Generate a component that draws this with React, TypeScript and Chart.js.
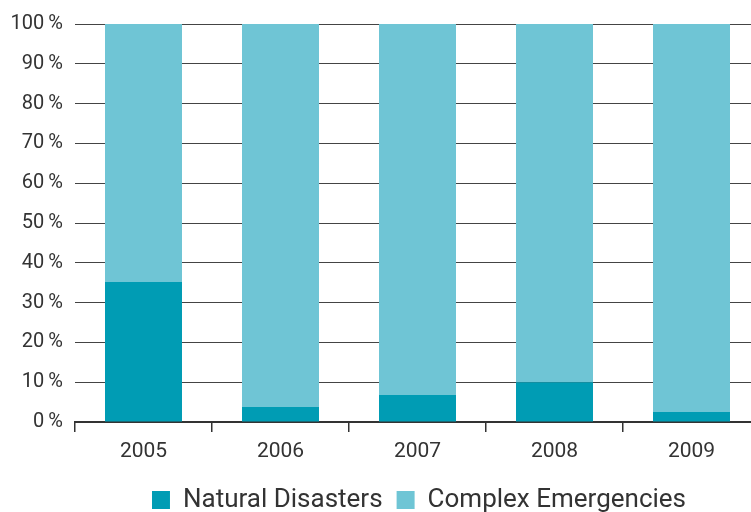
import React, { useEffect, useRef } from "react";
import { Chart, registerables } from "chart.js";

Chart.register(...registerables);

const categories = ["2005", "2006", "2007", "2008", "2009"];
const naturalDisasters = [35.2, 3.8, 6.8, 10.0, 2.5];
const complexEmergencies = [64.8, 96.2, 93.2, 90.0, 97.5];
const yTickLabels = ["0\u2009%", "10\u2009%", "20\u2009%", "30\u2009%", "40\u2009%", "50\u2009%", "60\u2009%", "70\u2009%", "80\u2009%", "90\u2009%", "100\u2009%"];

const FONT = "Roboto, 'DejaVu Sans', sans-serif";
const TEXT = "#333333";

const legendShift = {
  id: "legendShift",
  afterLayout(chart: any) {
    const lg = chart.legend;
    if (lg) {
      lg.left += 39;
      lg.right += 39;
    }
  },
};

export default function App() {
  const ref = useRef<HTMLCanvasElement | null>(null);
  useEffect(() => {
    if (!ref.current) return;
    const chart = new Chart(ref.current, {
      type: "bar",
      data: {
        labels: categories,
        datasets: [
          {
            label: "Natural Disasters",
            data: naturalDisasters,
            backgroundColor: "#009cb4",
            barPercentage: 0.562,
            categoryPercentage: 1,
          },
          {
            label: "Complex Emergencies",
            data: complexEmergencies,
            backgroundColor: "#6fc5d5",
            barPercentage: 0.562,
            categoryPercentage: 1,
          },
        ],
      },
      plugins: [legendShift],
      options: {
        animation: false,
        responsive: false,
        maintainAspectRatio: false,
        layout: { padding: { top: 11, right: 72, left: 0, bottom: 0 } },
        plugins: {
          tooltip: { enabled: false },
          legend: {
            position: "bottom",
            labels: {
              boxWidth: 18,
              boxHeight: 18,
              padding: 14,
              color: TEXT,
              font: { family: FONT, size: 26 },
            },
          },
        },
        scales: {
          x: {
            stacked: true,
            grid: {
              offset: true,
              drawOnChartArea: false,
              drawTicks: true,
              tickLength: 10,
              color: "#333333",
              lineWidth: 1.5,
            },
            border: { display: true, color: "#333333", width: 2 },
            ticks: { color: TEXT, font: { family: FONT, size: 21 }, padding: 7 },
            afterFit: (s: any) => {
              s.height = 51;
            },
          },
          y: {
            stacked: true,
            min: 0,
            max: 100,
            grid: { drawTicks: false, color: "#444444", lineWidth: 1 },
            border: { display: false },
            ticks: {
              stepSize: 10,
              padding: 12,
              color: TEXT,
              font: { family: FONT, size: 20 },
              callback: (_v: any, i: number) => yTickLabels[i],
            },
            afterFit: (s: any) => {
              s.width = 75;
            },
          },
        },
      },
    });
    return () => chart.destroy();
  }, []);
  return (
    <div style={{ position: "fixed", left: 0, top: 0, width: 751, height: 512, overflow: "hidden", background: "#fff" }}>
      <canvas ref={ref} width={832} height={523} style={{ width: 832, height: 523, display: "block" }} />
    </div>
  );
}
